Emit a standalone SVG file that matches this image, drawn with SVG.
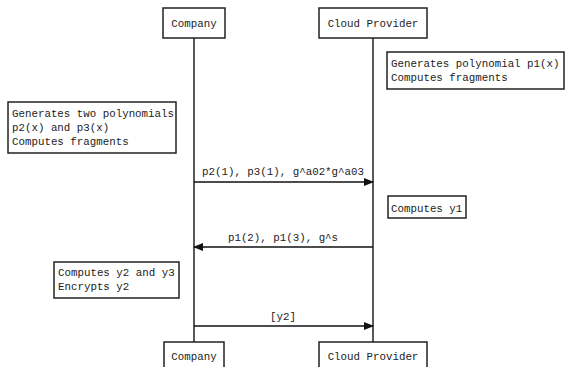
<svg xmlns="http://www.w3.org/2000/svg" width="573" height="367" viewBox="0 0 573 367">
<defs>
<marker id="ah" markerWidth="10" markerHeight="8" refX="9" refY="4" orient="auto" markerUnits="userSpaceOnUse">
<path d="M0,0 L10,4 L0,8 Z" fill="#111"/>
</marker>
<style>
.box{fill:#fff;stroke:#222;stroke-width:1.5}
.life{stroke:#222;stroke-width:1.5;fill:none}
.msg{stroke:#111;stroke-width:1.3;fill:none;marker-end:url(#ah)}
text{font-family:"Liberation Mono","DejaVu Sans Mono",monospace;font-size:10.8px;fill:#222}
.c{text-anchor:middle}
</style>
</defs>
<rect width="573" height="367" fill="#fff"/>
<g id="connectors">
<line class="life" x1="194" y1="38" x2="194" y2="342"/>
<line class="life" x1="373" y1="38" x2="373" y2="342"/>
<line class="msg" x1="194" y1="182" x2="373" y2="182"/>
<text class="c" x="283" y="175">p2(1), p3(1), g^a02*g^a03</text>
<line class="msg" x1="373" y1="247" x2="194" y2="247"/>
<text class="c" x="283" y="241">p1(2), p1(3), g^s</text>
<line class="msg" x1="194" y1="326" x2="373" y2="326"/>
<text class="c" x="283" y="320">[y2]</text>
</g>
<g id="company-top">
<rect class="box" x="163" y="8" width="62" height="30"/>
<text class="c" x="194" y="27">Company</text>
</g>
<g id="cloud-top">
<rect class="box" x="319" y="8" width="108" height="30"/>
<text class="c" x="373" y="27">Cloud Provider</text>
</g>
<g id="note-p1">
<rect class="box" x="387" y="52" width="177" height="37"/>
<text x="391" y="67">Generates polynomial p1(x)</text>
<text x="391" y="81">Computes fragments</text>
</g>
<g id="note-p2p3">
<rect class="box" x="8" y="102" width="168" height="51"/>
<text x="12" y="117">Generates two polynomials</text>
<text x="12" y="131">p2(x) and p3(x)</text>
<text x="12" y="145">Computes fragments</text>
</g>
<g id="note-y1">
<rect class="box" x="388" y="196" width="78" height="22"/>
<text x="391" y="212">Computes y1</text>
</g>
<g id="note-y2y3">
<rect class="box" x="54" y="262" width="125" height="36"/>
<text x="58" y="276">Computes y2 and y3</text>
<text x="58" y="290">Encrypts y2</text>
</g>
<g id="company-bottom">
<rect class="box" x="164" y="342" width="60" height="30"/>
<text class="c" x="194" y="360">Company</text>
</g>
<g id="cloud-bottom">
<rect class="box" x="319" y="342" width="108" height="30"/>
<text class="c" x="373" y="360">Cloud Provider</text>
</g>
</svg>
